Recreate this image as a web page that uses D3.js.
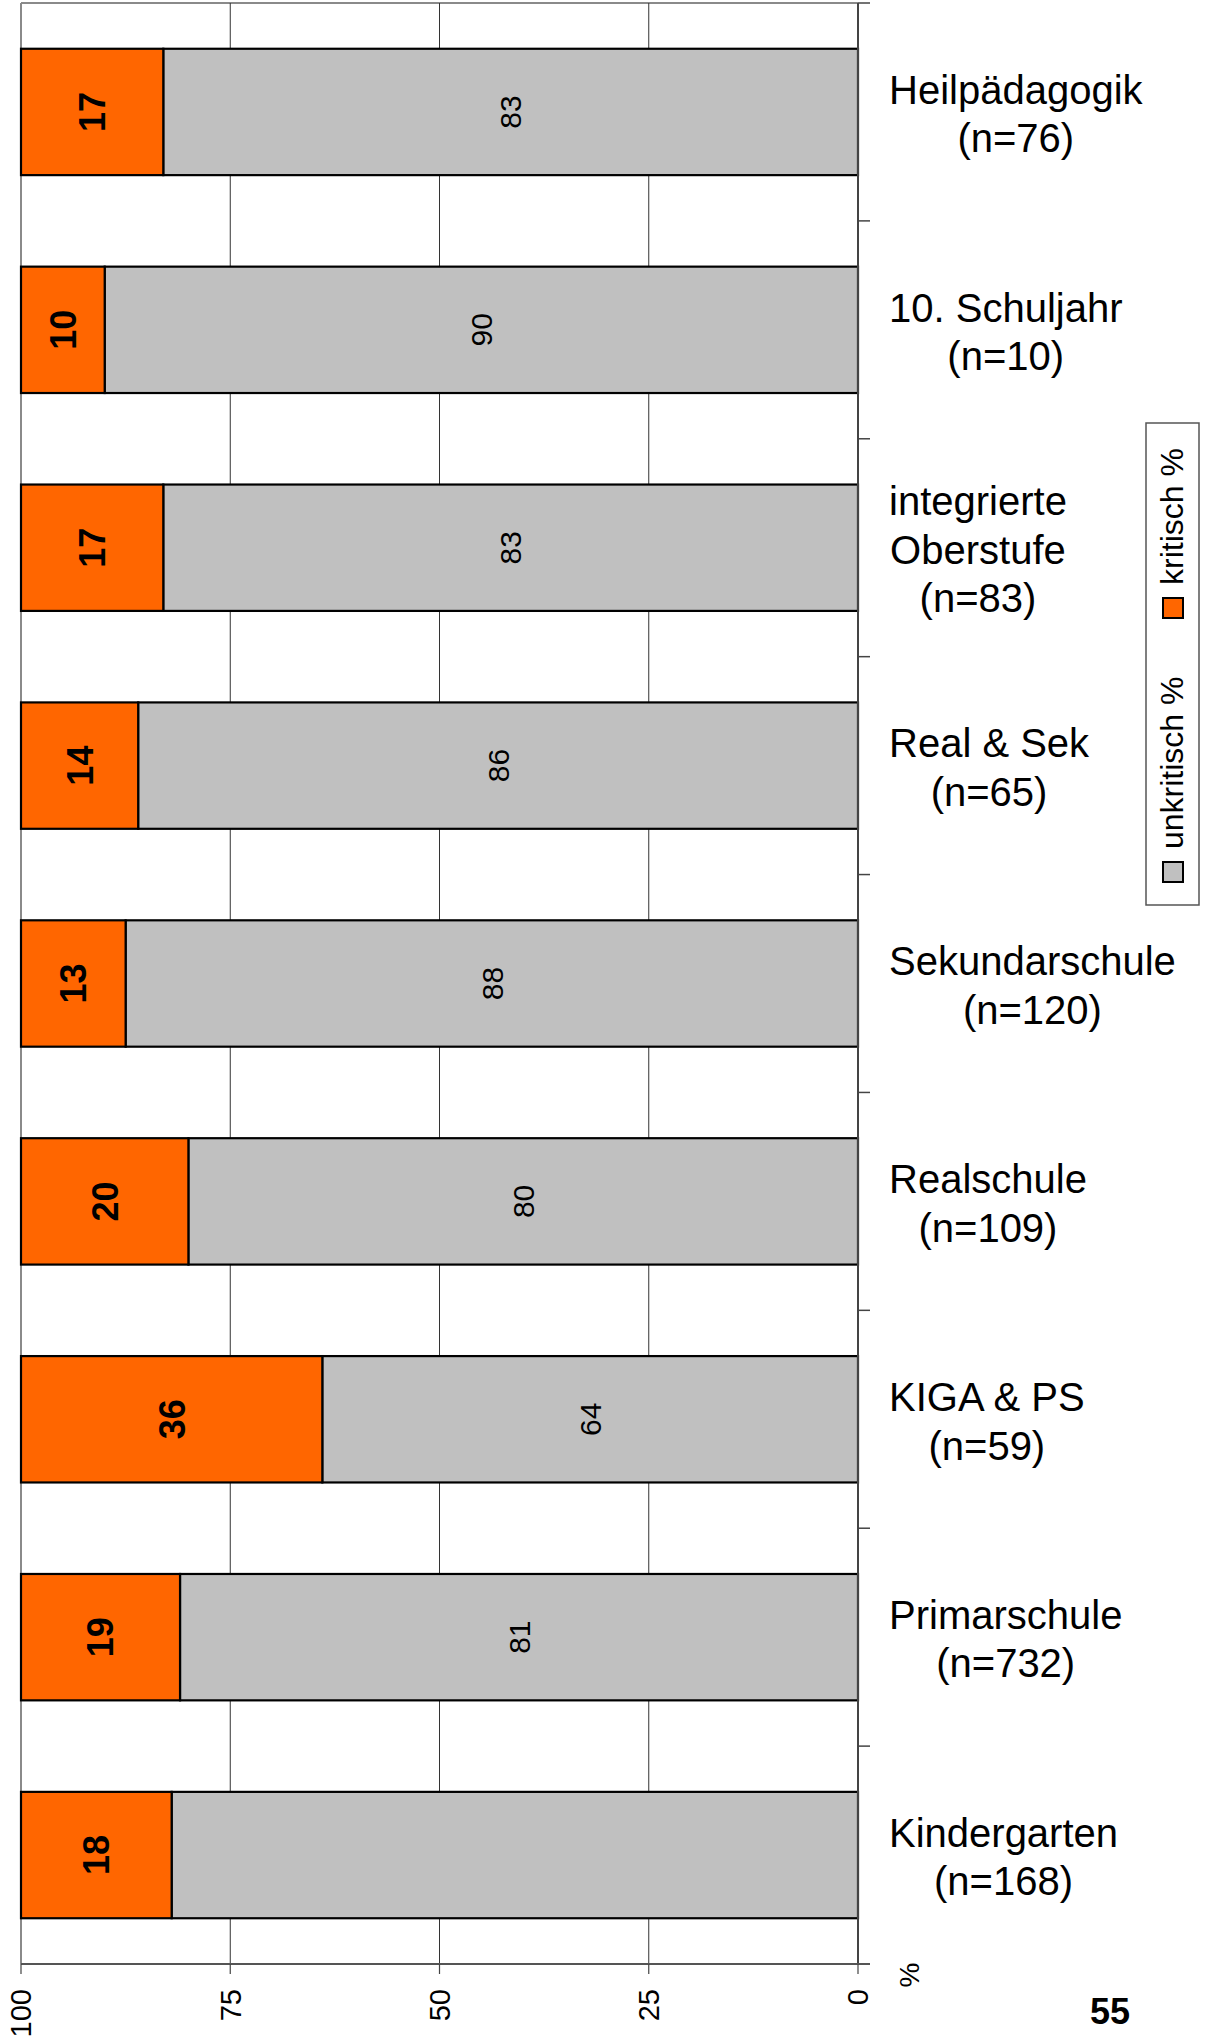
<!DOCTYPE html>
<html><head><meta charset="utf-8">
<script src="https://cdn.jsdelivr.net/npm/d3@7"></script>
<style>body{margin:0;background:#fff} svg{display:block}</style>
</head><body><svg id="c" width="1212" height="2044"></svg>
<script>
const categories = ["Heilpädagogik","10. Schuljahr","integrierte\nOberstufe","Real & Sek","Sekundarschule","Realschule","KIGA & PS","Primarschule","Kindergarten"];
const nValues = [76,10,83,65,120,109,59,732,168];
const kritisch = [17,10,17,14,12.5,20,36,19,18];
const unkritisch = [83,90,83,86,87.5,80,64,81,82];
const unkritischLabelShown = [true,true,true,true,true,true,true,true,false];
const xTicks = [100,75,50,25,0];
const gridTicks = [75,50,25];
const seriesNames = ["unkritisch %","kritisch %"];
const colors = ["#C0C0C0","#FF6600"];
const pageNumber = "55";

const FONT = "'Liberation Sans', Arial, Helvetica, sans-serif";
const svg = d3.select("#c").style("font-family", FONT);
svg.append("rect").attr("width",1212).attr("height",2044).attr("fill","#fff");

const plot = {left:21, right:858, top:3, bottom:1964};
const x = d3.scaleLinear().domain([100,0]).range([plot.left, plot.right]);
const y = d3.scaleBand().domain(d3.range(categories.length))
  .range([plot.top, plot.bottom]).paddingInner(0.42).paddingOuter(0.21);
const step = y.step();
const bw = y.bandwidth();
const fmt = d3.format(".0f");

// borders
svg.append("line").attr("x1",plot.left).attr("x2",plot.left).attr("y1",plot.top).attr("y2",plot.bottom)
  .attr("stroke","#8a8a8a").attr("stroke-width",2);
svg.append("line").attr("x1",plot.left).attr("x2",plot.right).attr("y1",plot.top).attr("y2",plot.top)
  .attr("stroke","#8a8a8a").attr("stroke-width",2);

// gridlines
svg.append("g").selectAll("line").data(gridTicks).join("line")
  .attr("x1",d=>x(d)).attr("x2",d=>x(d)).attr("y1",plot.top).attr("y2",plot.bottom)
  .attr("stroke","#333").attr("stroke-width",1);

// bars
const bars = svg.append("g");
bars.selectAll("rect.u").data(unkritisch).join("rect").attr("class","u")
  .attr("x",d=>x(d)).attr("width",d=>x(0)-x(d))
  .attr("y",(d,i)=>y(i)).attr("height",bw)
  .attr("fill",colors[0]).attr("stroke","#000").attr("stroke-width",2.2);
bars.selectAll("rect.k").data(kritisch).join("rect").attr("class","k")
  .attr("x",(d,i)=>x(unkritisch[i]+d)).attr("width",(d,i)=>x(unkritisch[i])-x(unkritisch[i]+d))
  .attr("y",(d,i)=>y(i)).attr("height",bw)
  .attr("fill",colors[1]).attr("stroke","#000").attr("stroke-width",2.2);

// value labels
const ul = svg.append("g");
unkritisch.forEach((v,i)=>{
  if(!unkritischLabelShown[i]) return;
  const cx=(x(0)+x(v))/2, cy=y(i)+bw/2, fs=30;
  ul.append("text").attr("transform",`translate(${cx+0.36*fs},${cy}) rotate(-90)`)
    .attr("text-anchor","middle").attr("font-size",fs).attr("fill","#000").text(fmt(v));
});
kritisch.forEach((v,i)=>{
  const u=unkritisch[i];
  const cx=(x(u)+x(u+v))/2, cy=y(i)+bw/2, fs=36;
  ul.append("text").attr("transform",`translate(${cx+0.36*fs},${cy}) rotate(-90)`)
    .attr("text-anchor","middle").attr("font-size",fs).attr("font-weight","bold").attr("fill","#000").text(fmt(v));
});

// right category axis
svg.append("line").attr("x1",plot.right).attr("x2",plot.right).attr("y1",plot.top).attr("y2",plot.bottom)
  .attr("stroke","#444").attr("stroke-width",2);
svg.append("g").selectAll("line").data(d3.range(categories.length)).join("line")
  .attr("x1",plot.right).attr("x2",plot.right+12)
  .attr("y1",d=>y(d)-y.paddingOuter()*step).attr("y2",d=>y(d)-y.paddingOuter()*step)
  .attr("stroke","#444").attr("stroke-width",1.5);

// bottom value axis
svg.append("line").attr("x1",plot.left).attr("x2",plot.right+12).attr("y1",plot.bottom).attr("y2",plot.bottom)
  .attr("stroke","#555").attr("stroke-width",2);
const xa = svg.append("g");
xa.selectAll("line").data(xTicks).join("line")
  .attr("x1",d=>x(d)).attr("x2",d=>x(d)).attr("y1",plot.bottom).attr("y2",plot.bottom+10)
  .attr("stroke","#444").attr("stroke-width",1.2);
xa.selectAll("text").data(xTicks).join("text")
  .attr("transform",d=>`translate(${x(d)+0.36*29},${plot.bottom+25}) rotate(-90)`)
  .attr("text-anchor","end").attr("font-size",29).attr("fill","#000").text(d=>d);
svg.append("text").attr("transform",`translate(${909+0.36*28},1975) rotate(-90)`)
  .attr("text-anchor","middle").attr("font-size",28).text("%");

// category labels
const cl = svg.append("g");
categories.forEach((c,i)=>{
  const lines = c.split("\n").concat([`(n=${nValues[i]})`]);
  const g = cl.append("g");
  const cy = y(i)+bw/2;
  const ts = lines.map((t,j)=>g.append("text").attr("font-size",40).attr("fill","#000")
    .attr("text-anchor","middle")
    .attr("y", cy + (j-(lines.length-1)/2)*48.5 + 2).text(t));
  const wmax = d3.max(ts, t=>t.node().getComputedTextLength());
  ts.forEach(t=>t.attr("x", 889 + wmax/2));
  ts.forEach(t=>t.attr("dy","0.35em"));
});

// legend
const lg = svg.append("g");
lg.append("rect").attr("x",1146).attr("y",423).attr("width",53).attr("height",482)
  .attr("fill","#fff").attr("stroke","#555").attr("stroke-width",1.5);
const legendItems = [{name:seriesNames[0], color:colors[0], sy:862},{name:seriesNames[1], color:colors[1], sy:598}];
legendItems.forEach(it=>{
  lg.append("rect").attr("x",1163).attr("y",it.sy).attr("width",20).attr("height",20)
    .attr("fill",it.color).attr("stroke","#000").attr("stroke-width",2);
  lg.append("text").attr("transform",`translate(1183,${it.sy-13}) rotate(-90)`)
    .attr("text-anchor","start").attr("font-size",32).attr("fill","#000").text(it.name);
});

// page number
svg.append("text").attr("x",1090).attr("y",2024).attr("font-size",36).attr("font-weight","bold").text(pageNumber);
</script></body></html>
